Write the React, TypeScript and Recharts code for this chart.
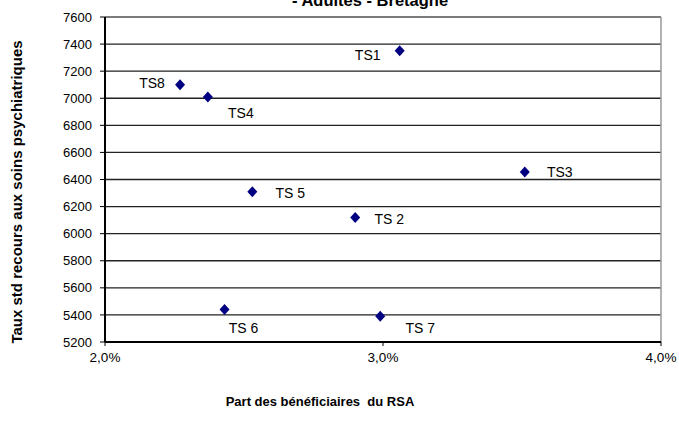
import React from 'react';
import { ScatterChart, Scatter, XAxis, YAxis, CartesianGrid, LabelList, ReferenceLine } from 'recharts';

const sectors = ['TS1', 'TS2', 'TS3', 'TS4', 'TS5', 'TS6', 'TS7', 'TS8'];
const pointLabels = ['TS1', 'TS 2', 'TS3', 'TS4', 'TS 5', 'TS 6', 'TS 7', 'TS8'];
const rsaShare = [3.06, 2.9, 3.51, 2.37, 2.53, 2.43, 2.99, 2.27];
const careRate = [7350, 6120, 6455, 7010, 6310, 5440, 5390, 7100];
const xTicks = [2, 3, 4];
const yTicks = [5200, 5400, 5600, 5800, 6000, 6200, 6400, 6600, 6800, 7000, 7200, 7400, 7600];

const titleText = '- Adultes - Bretagne';
const xTitle = 'Part des bénéficiaires  du RSA';
const yTitle = 'Taux std recours aux soins psychiatriques';

// label placement (style), keyed by sector
const labelOffset: Record<string, [number, number]> = {
  TS1: [-32, 4],
  TS2: [34, 2],
  TS3: [35, 0],
  TS4: [33, 16],
  TS5: [38, 1],
  TS6: [19, 18],
  TS7: [40, 12],
  TS8: [-28, -2],
};

const data = sectors.map((s, i) => ({ id: s, name: pointLabels[i], x: rsaShare[i], y: careRate[i] }));

const FONT = '"Liberation Sans", Arial, sans-serif';

const Diamond = (props: any) => {
  const { cx, cy } = props;
  if (cx == null || cy == null) return null;
  const w = 5;
  const h = 5.5;
  return <polygon points={`${cx},${cy - h} ${cx + w},${cy} ${cx},${cy + h} ${cx - w},${cy}`} fill="#000080" />;
};

const PointLabel = (props: any) => {
  const { x, y, width, height, index } = props;
  const d = data[index];
  if (!d) return null;
  const cx = x + (width || 0) / 2;
  const cy = y + (height || 0) / 2;
  const [dx, dy] = labelOffset[d.id] || [0, 0];
  return (
    <text x={cx + dx} y={cy + dy} textAnchor="middle" dominantBaseline="central" fontFamily={FONT} fontSize={14} fill="#000">
      {d.name}
    </text>
  );
};

export default function App() {
  return (
    <div style={{ position: 'absolute', left: 0, top: 0, width: 679, height: 424, background: '#fff', fontFamily: FONT, overflow: 'hidden' }}>
      <ScatterChart width={679} height={424} margin={{ top: 17, right: 18, bottom: 52, left: 45 }}>
        <CartesianGrid vertical={false} stroke="#222" strokeWidth={1.3} />
        <ReferenceLine y={7600} stroke="#888" strokeWidth={1.5} />
        <ReferenceLine x={4} stroke="#999" strokeWidth={1.5} />
        <XAxis
          type="number"
          dataKey="x"
          domain={[2, 4]}
          ticks={xTicks}
          tickFormatter={(v: number) => v.toFixed(1).replace('.', ',') + '%'}
          axisLine={{ stroke: '#000', strokeWidth: 2 }}
          tickLine={{ stroke: '#000' }}
          tickSize={4}
          tickMargin={6}
          height={30}
          tick={{ fill: '#000', fontSize: 13.5, fontFamily: FONT }}
        />
        <YAxis
          type="number"
          dataKey="y"
          domain={[5200, 7600]}
          ticks={yTicks}
          interval={0}
          axisLine={{ stroke: '#000', strokeWidth: 2 }}
          tickLine={{ stroke: '#000' }}
          tickSize={5}
          tickMargin={8}
          width={60}
          tick={{ fill: '#000', fontSize: 13, fontFamily: FONT }}
        />
        <Scatter data={data} shape={<Diamond />} isAnimationActive={false}>
          <LabelList dataKey="name" content={<PointLabel />} />
        </Scatter>
      </ScatterChart>
      <div style={{ position: 'absolute', zIndex: 10, left: 170, width: 400, top: -9, textAlign: 'center', fontWeight: 'bold', fontSize: 16.5, lineHeight: '18px', whiteSpace: 'nowrap', color: '#000' }}>
        {titleText}
      </div>
      <div style={{ position: 'absolute', left: 120, width: 400, top: 394, textAlign: 'center', fontWeight: 'bold', fontSize: 13, lineHeight: '16px', whiteSpace: 'pre' }}>
        {xTitle}
      </div>
      <div
        style={{
          position: 'absolute',
          left: 17 - 200,
          width: 400,
          top: 192 - 9,
          textAlign: 'center',
          fontWeight: 'bold',
          fontSize: 15,
          lineHeight: '18px',
          whiteSpace: 'nowrap',
          transform: 'rotate(-90deg)',
          transformOrigin: '50% 50%',
        }}
      >
        {yTitle}
      </div>
    </div>
  );
}
